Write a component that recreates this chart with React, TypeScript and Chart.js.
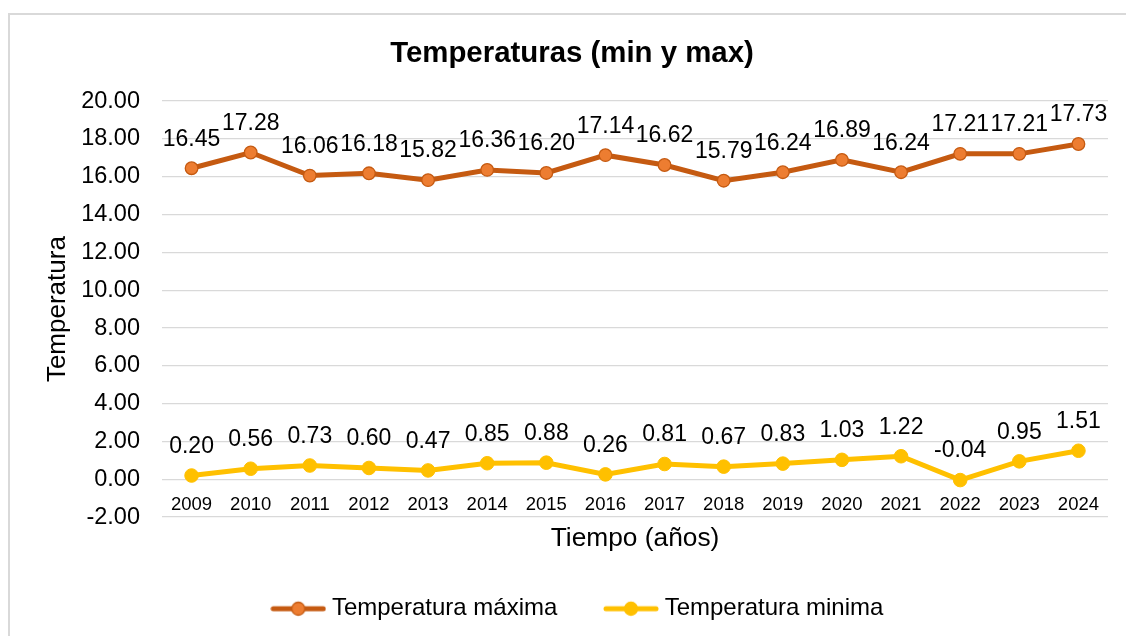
import React, { useEffect, useRef } from "react";
import { Chart, registerables } from "chart.js";

Chart.register(...registerables);

// ---- data ----
const years = ["2009", "2010", "2011", "2012", "2013", "2014", "2015", "2016", "2017", "2018", "2019", "2020", "2021", "2022", "2023", "2024"];
const tempMax = [16.45, 17.28, 16.06, 16.18, 15.82, 16.36, 16.2, 17.14, 16.62, 15.79, 16.24, 16.89, 16.24, 17.21, 17.21, 17.73];
const tempMin = [0.2, 0.56, 0.73, 0.6, 0.47, 0.85, 0.88, 0.26, 0.81, 0.67, 0.83, 1.03, 1.22, -0.04, 0.95, 1.51];
const seriesNames = ["Temperatura máxima", "Temperatura minima"];
const yRange = [-2, 20];
const yStep = 2;
const chartTitle = "Temperaturas (min y max)";
const xTitle = "Tiempo (años)";
const yTitle = "Temperatura";

const FONT = "'Liberation Sans', Arial, Helvetica, sans-serif";
const MAX_LINE = "#C55A11";
const MAX_FILL = "#ED7D31";
const MIN_LINE = "#FFC000";

function legendSymbol(line: string, fill: string, border: string) {
  const c = document.createElement("canvas");
  c.width = 56;
  c.height = 18;
  const g = c.getContext("2d")!;
  g.strokeStyle = line;
  g.lineWidth = 5;
  g.lineCap = "round";
  g.beginPath();
  g.moveTo(3, 9);
  g.lineTo(53, 9);
  g.stroke();
  g.beginPath();
  g.arc(28, 9, 6.5, 0, Math.PI * 2);
  g.fillStyle = fill;
  g.fill();
  g.lineWidth = 1.3;
  g.strokeStyle = border;
  g.stroke();
  return c;
}

const valueLabels = {
  id: "valueLabels",
  afterDatasetsDraw(chart: any) {
    const { ctx } = chart;
    ctx.save();
    ctx.font = `23px ${FONT}`;
    ctx.fillStyle = "#000";
    ctx.textAlign = "center";
    ctx.textBaseline = "middle";
    chart.data.datasets.forEach((ds: any, i: number) => {
      const meta = chart.getDatasetMeta(i);
      meta.data.forEach((pt: any, j: number) => {
        const v = ds.data[j] as number;
        ctx.fillText(v.toFixed(2), pt.x, pt.y - 29);
      });
    });
    ctx.restore();
  },
};

// nudge the legend row to sit where the reference has it
const legendNudge = {
  id: "legendNudge",
  afterLayout(chart: any) {
    const lg = chart.legend;
    if (lg) {
      lg.left += 8;
      lg.right += 8;
    }
  },
};

export default function App() {
  const ref = useRef<HTMLCanvasElement | null>(null);

  useEffect(() => {
    if (!ref.current) return;
    const symbols = [legendSymbol(MAX_LINE, MAX_FILL, MAX_LINE), legendSymbol(MIN_LINE, MIN_LINE, MIN_LINE)];
    const chart = new Chart(ref.current, {
      type: "line",
      data: {
        labels: years,
        datasets: [
          {
            label: seriesNames[0],
            data: tempMax,
            borderColor: MAX_LINE,
            backgroundColor: MAX_FILL,
            borderWidth: 5,
            pointRadius: 6.3,
            pointBorderWidth: 1.3,
            pointBackgroundColor: MAX_FILL,
            pointBorderColor: MAX_LINE,
            tension: 0,
          },
          {
            label: seriesNames[1],
            data: tempMin,
            borderColor: MIN_LINE,
            backgroundColor: MIN_LINE,
            borderWidth: 5,
            pointRadius: 6.8,
            pointBorderWidth: 1,
            pointBackgroundColor: MIN_LINE,
            pointBorderColor: MIN_LINE,
            tension: 0,
          },
        ],
      },
      options: {
        responsive: false,
        animation: false,
        layout: { padding: { left: 36, right: 18, top: 0, bottom: 5.25 } },
        scales: {
          x: {
            type: "category",
            position: { y: 0 } as any,
            offset: true,
            grid: { display: false, drawTicks: false },
            border: { display: false },
            ticks: { font: { size: 18.5, family: FONT }, color: "#000", padding: 14.5, maxRotation: 0, autoSkip: false },
            afterFit: (s: any) => {
              s.height = 0;
            },
          },
          x2: {
            type: "category",
            axis: "x",
            position: "bottom",
            offset: true,
            grid: { display: false, drawTicks: false },
            border: { display: false },
            ticks: { display: false },
            title: {
              display: true,
              text: xTitle,
              font: { size: 26.3, family: FONT },
              color: "#000",
              padding: { top: 5.9, bottom: -9.85 },
            },
          },
          y: {
            min: yRange[0],
            max: yRange[1],
            grid: { color: "#d9d9d9", lineWidth: 1.3, drawTicks: false },
            border: { display: false },
            ticks: {
              stepSize: yStep,
              font: { size: 23.5, family: FONT },
              color: "#000",
              padding: 22,
              callback: (v: any) => Number(v).toFixed(2),
            },
            title: {
              display: true,
              text: yTitle,
              font: { size: 26, family: FONT },
              color: "#000",
              padding: { top: 6.4, bottom: -14.4 },
            },
          },
        } as any,
        plugins: {
          title: {
            display: true,
            text: chartTitle,
            font: { size: 29.4, weight: "bold", family: FONT },
            color: "#000",
            padding: { top: 36.6, bottom: 29.2 },
          },
          legend: {
            position: "bottom",
            labels: {
              usePointStyle: true,
              pointStyleWidth: 43.3,
              padding: 52,
              font: { size: 24, family: FONT },
              color: "#000",
              generateLabels: (c: any) => {
                const items = (Chart.defaults as any).plugins.legend.labels.generateLabels(c);
                return items.map((it: any, i: number) => ({ ...it, pointStyle: symbols[i] }));
              },
            },
          },
          tooltip: { enabled: false },
        },
      },
      plugins: [valueLabels, legendNudge],
    });
    return () => chart.destroy();
  }, []);

  return (
    <div style={{ position: "fixed", left: 0, top: 0, width: 1126, height: 636, overflow: "hidden", background: "#fff" }}>
      <div
        style={{
          position: "absolute",
          left: 8,
          top: 13,
          width: 1200,
          height: 700,
          border: "2px solid #d9d9d9",
          boxSizing: "border-box",
        }}
      />
      <canvas ref={ref} width={1126} height={636} style={{ position: "absolute", left: 0, top: 0, display: "block" }} />
    </div>
  );
}
